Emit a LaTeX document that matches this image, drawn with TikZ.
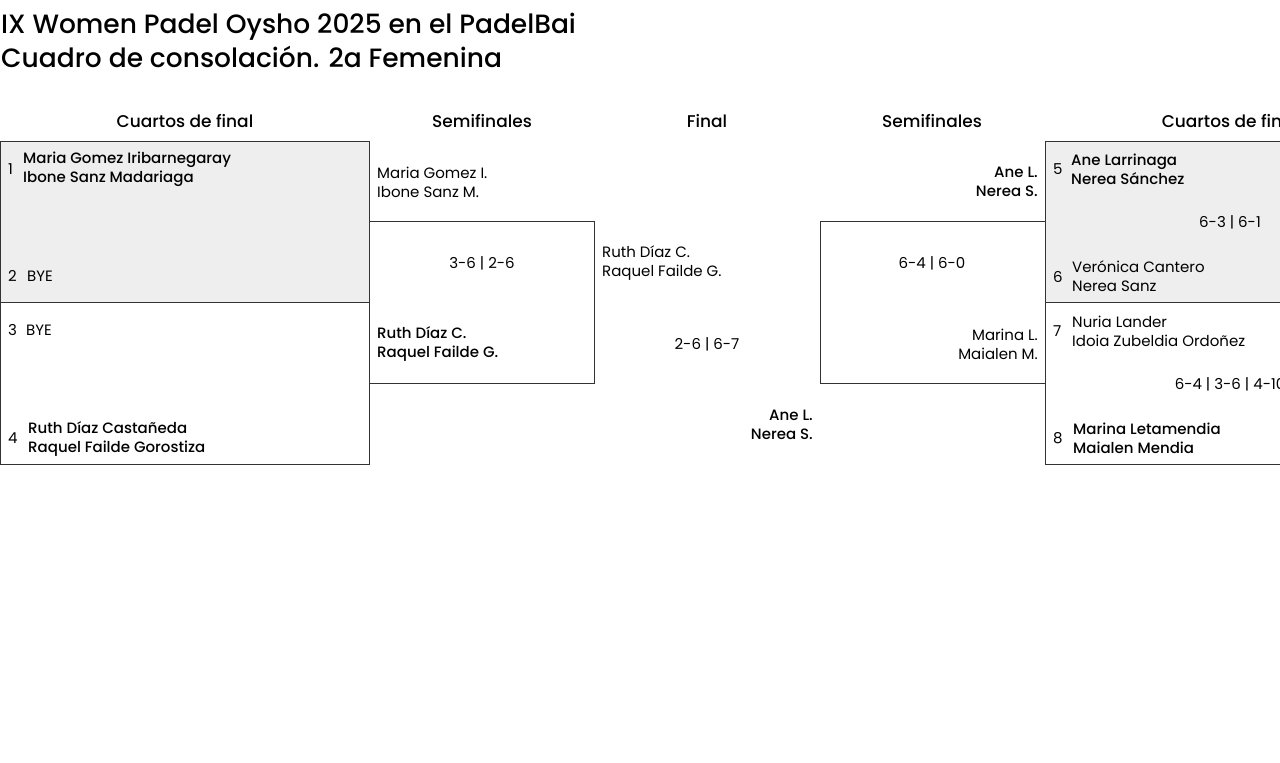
\documentclass[tikz,border=0pt]{standalone}
\usepackage{fontspec}
\setmainfont{Poppins}
\newfontfamily\medfont{Poppins Medium}
\definecolor{qfgray}{HTML}{EEEEEE}
\definecolor{boxline}{HTML}{333333}
\begin{document}
\begin{tikzpicture}[x=1pt,y=-1pt,
  nm/.style={inner sep=0pt, font=\fontsize{15}{19}\selectfont, align=left},
  nmb/.style={inner sep=0pt, font=\medfont\fontsize{15}{19}\selectfont, align=left},
  nmr/.style={nm, align=right, anchor=east},
  nmbr/.style={nmb, align=right, anchor=east},
  seed/.style={inner sep=0pt, font=\fontsize{15}{19}\selectfont, anchor=west},
  score/.style={inner sep=0pt, font=\fontsize{15}{19}\selectfont, anchor=center},
  hdr/.style={inner sep=0pt, font=\medfont\fontsize{17}{20}\selectfont, anchor=center},
  ttl/.style={inner sep=0pt, font=\medfont\fontsize{26.5}{32}\selectfont, anchor=base west},
  boxl/.style={draw=boxline, line width=0.9pt}
]
\useasboundingbox (0,0) rectangle (1280,763);
\clip (0,0) rectangle (1280,763);
% titles
\node[ttl] (t1) at (1,33) {IX Women Padel Oysho 2025 en el PadelBai};
\node[ttl] (t2) at (1,67) {Cuadro de consolación. 2a Femenina};
% headers
\node[hdr] (h1) at (185,121) {Cuartos de final};
\node[hdr] (h2) at (482,121) {Semifinales};
\node[hdr] (h3) at (707,121) {Final};
\node[hdr] (h4) at (932,121) {Semifinales};
\node[hdr] (h5) at (1230,121) {Cuartos de final};
% left quarter-final boxes
\draw[boxl, fill=qfgray] (0.5,141) rectangle (369,302);
\draw[boxl] (0.5,302) rectangle (369,464);
% left semifinal
\draw[boxl] (369,221) -- (594,221) -- (594,383) -- (369,383);
% right semifinal
\draw[boxl] (1045,221) -- (820,221) -- (820,383) -- (1045,383);
% right quarter-final boxes
\draw[boxl, fill=qfgray] (1045,141) rectangle (1414,302);
\draw[boxl] (1045,302) rectangle (1414,464);
% left QF texts
\node[seed] (s1) at (8,169) {1};
\node[nmb, anchor=west] (p1) at (23,169.5) {Maria Gomez Iribarnegaray\\Ibone Sanz Madariaga};
\node[seed] (s2) at (8,276) {2};
\node[nm, anchor=west] (p2) at (27,276) {BYE};
\node[seed] (s3) at (8,330) {3};
\node[nm, anchor=west] (p3) at (26,330) {BYE};
\node[seed] (s4) at (8,438) {4};
\node[nmb, anchor=west] (p4) at (28,438.5) {Ruth Díaz Castañeda\\Raquel Failde Gorostiza};
% left SF texts
\node[nm, anchor=west] (sf1) at (377,182) {Maria Gomez I.\\Ibone Sanz M.};
\node[score] (sc1) at (482,263) {3-6 | 2-6};
\node[nmb, anchor=west] (sf2) at (377,344) {Ruth Díaz C.\\Raquel Failde G.};
% final
\node[nm, anchor=west] (f1) at (602,263.5) {Ruth Díaz C.\\Raquel Failde G.};
\node[score] (scf) at (707,344) {2-6 | 6-7};
\node[nmbr] (f2) at (813,425) {Ane L.\\Nerea S.};
% right SF texts
\node[nmbr] (sf3) at (1038,182) {Ane L.\\Nerea S.};
\node[score] (sc2) at (932,263) {6-4 | 6-0};
\node[nmr] (sf4) at (1038,344) {Marina L.\\Maialen M.};
% right QF texts
\node[seed] (s5) at (1053,169) {5};
\node[nmb, anchor=west] (p5) at (1071,169.5) {Ane Larrinaga\\Nerea Sánchez};
\node[score] (sc3) at (1230,222) {6-3 | 6-1};
\node[seed] (s6) at (1053,277) {6};
\node[nm, anchor=west] (p6) at (1072,276.5) {Verónica Cantero\\Nerea Sanz};
\node[seed] (s7) at (1053,331) {7};
\node[nm, anchor=west] (p7) at (1072,331) {Nuria Lander\\Idoia Zubeldia Ordoñez};
\node[score] (sc4) at (1230,384) {6-4 | 3-6 | 4-10};
\node[seed] (s8) at (1053,438) {8};
\node[nmb, anchor=west] (p8) at (1073,438.5) {Marina Letamendia\\Maialen Mendia};
\end{tikzpicture}
\end{document}
